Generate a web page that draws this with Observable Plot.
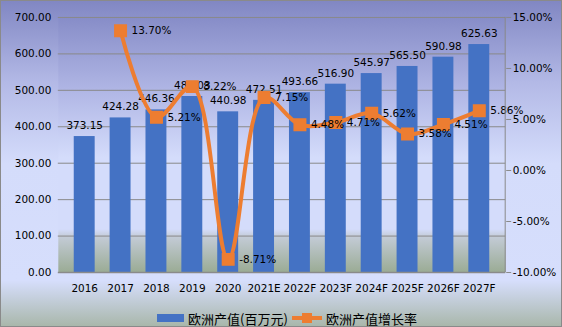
<!DOCTYPE html>
<html><head><meta charset="utf-8">
<script src="https://cdn.jsdelivr.net/npm/d3@7"></script>
<script src="https://cdn.jsdelivr.net/npm/@observablehq/plot@0.6"></script>
<style>
html,body{margin:0;padding:0;}
#wrap{position:relative;width:560px;height:325px;border:1px solid #8a8a8a;
background:linear-gradient(to bottom,#8187c3 0%,#b3b9e6 25%,#d4dcfb 50%,#d6defc 86%,#a9b7ab 100%);overflow:hidden;}
#legend{position:absolute;left:0;top:307px;width:560px;height:20px;display:flex;justify-content:center;align-items:center;
font-family:"Noto Sans CJK SC",sans-serif;font-size:13px;color:#000;}
.sw{display:inline-block;}
</style></head><body>
<div id="wrap"><div id="chart"></div>
<div id="legend">
<span class="sw" style="width:27px;height:8px;background:#4472c4;margin-right:4px;margin-left:12px"></span><span>欧洲产值(百万元)</span>
<svg width="32" height="12" style="margin:0 3px"><line x1="1" y1="6" x2="31" y2="6" stroke="#ed7d31" stroke-width="4"/><rect x="11" y="1" width="10" height="10" fill="#ed7d31"/></svg><span>欧洲产值增长率</span>
</div></div>
<script>
const years = ["2016","2017","2018","2019","2020","2021E","2022F","2023F","2024F","2025F","2026F","2027F"];
const output = [373.15,424.28,446.36,483.03,440.98,472.51,493.66,516.90,545.97,565.50,590.98,625.63];
const growth = [null,13.70,5.21,8.22,-8.71,7.15,4.48,4.71,5.62,3.58,4.51,5.86];
const leftTicks = [0,100,200,300,400,500,600,700];
const rightTicks = [-10,-5,0,5,10,15];

const data = years.map((y,i)=>({year:y, v:output[i], g:growth[i]}));
const gdata = data.filter(d=>d.g!=null);
// map percent onto left scale [0,700]
const pct = p => (p + 10) / 25 * 700;

const chart = Plot.plot({
  width: 562, height: 306,
  marginLeft: 57, marginRight: 56, marginTop: 16, marginBottom: 34,
  style: {fontFamily: "DejaVu Sans, sans-serif", fontSize: "10px", color: "#000", background: "transparent"},
  x: {domain: years, padding: 0.42, label: null},
  y: {domain: [0,700], label: null},
  marks: [
    Plot.frame({fill: "url(#pg)", stroke: "none"}),
    Plot.ruleY(leftTicks.slice(1), {stroke: "#8a8a8a", strokeWidth: 1}),
    Plot.barY(data, {x: "year", y: "v", fill: "#4472c4"}),
    Plot.ruleY([0], {stroke: "#8a8a8a", strokeWidth: 1.5}),
    Plot.axisY({ticks: leftTicks, tickFormat: d => d.toFixed(2), tickSize: 0, tickPadding: 7, label: null, fontSize: 10.5}),
    Plot.axisY({anchor: "right", ticks: rightTicks.map(pct), tickFormat: d => (d/700*25-10).toFixed(2) + "%", tickSize: 5, tickPadding: 2, label: null, stroke: "#8a8a8a", fontSize: 10.5}),
    Plot.axisX({tickSize: 0, tickPadding: 12, label: null, fontSize: 10.5}),
    Plot.text(data, {x: "year", y: "v", text: d => d.v.toFixed(2), dy: -11, fontSize: 10.5, fill: "#000"}),
    Plot.line(gdata, {x: "year", y: d => pct(d.g), stroke: "#ed7d31", strokeWidth: 4, curve: "catmull-rom"}),
    Plot.dot(gdata, {x: "year", y: d => pct(d.g), symbol: "square", r: 6.5, fill: "#ed7d31", stroke: "#ed7d31"}),
    Plot.text(gdata, {x: "year", y: d => pct(d.g), text: d => d.g.toFixed(2) + "%", dx: 11, textAnchor: "start", fontSize: 10.5, fill: "#000"})
  ]
});
const ns = "http://www.w3.org/2000/svg";
const defs = document.createElementNS(ns, "defs");
defs.innerHTML = `<linearGradient id="pg" x1="0" y1="0" x2="0" y2="1">
<stop offset="0" stop-color="#878dc8"/><stop offset="0.3" stop-color="#b2b8e6"/><stop offset="0.55" stop-color="#d4dcfb"/>
<stop offset="0.83" stop-color="#d4dcfb"/><stop offset="0.86" stop-color="#c3cbd6"/><stop offset="1" stop-color="#9aab94"/></linearGradient>`;
chart.insertBefore(defs, chart.firstChild);
document.getElementById("chart").appendChild(chart);
const ln = document.createElementNS(ns, "line");
ln.setAttribute("x1", 506); ln.setAttribute("x2", 506); ln.setAttribute("y1", 16); ln.setAttribute("y2", 272);
ln.setAttribute("stroke", "#8a8a8a");
chart.appendChild(ln);
</script>
</body></html>
